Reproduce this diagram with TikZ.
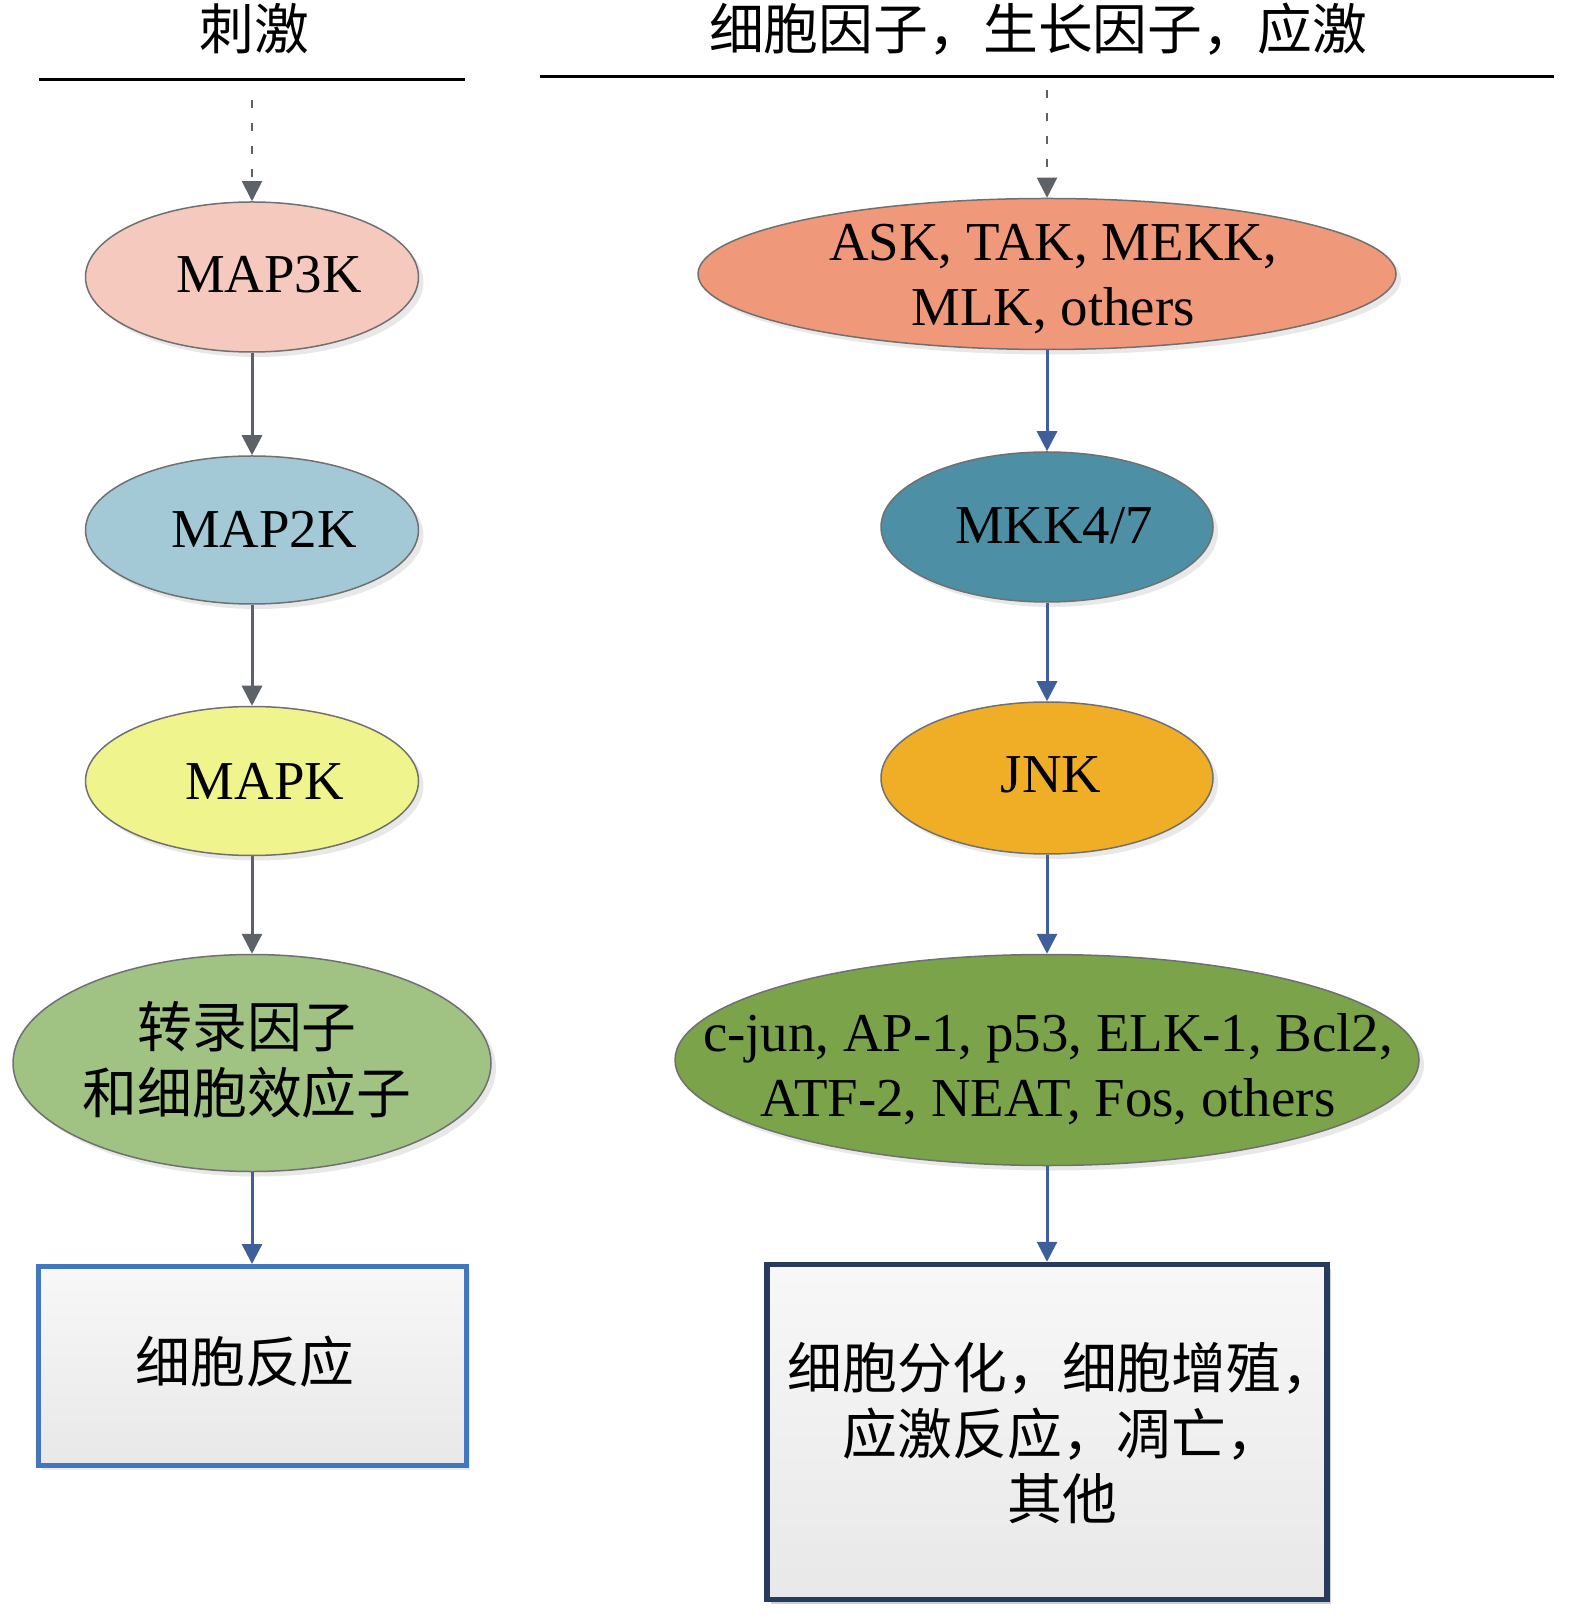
\documentclass[tikz,border=0pt]{standalone}
\usepackage{fontspec}
\setmainfont{Liberation Serif}
\newfontfamily\cjk{Noto Sans CJK SC}
\usetikzlibrary{arrows.meta,shapes.geometric,shadows}
\definecolor{cA}{HTML}{F6C9BE}
\definecolor{cB}{HTML}{A3C9D6}
\definecolor{cC}{HTML}{EFF58C}
\definecolor{cD}{HTML}{A0C282}
\definecolor{cE}{HTML}{F0997A}
\definecolor{cF}{HTML}{4D90A6}
\definecolor{cG}{HTML}{F0AE26}
\definecolor{cH}{HTML}{7AA34A}
\definecolor{ellborder}{HTML}{707070}
\definecolor{grayarrow}{HTML}{5D6168}
\definecolor{bluearrow}{HTML}{3E5F98}
\definecolor{lboxborder}{HTML}{4077BE}
\definecolor{rboxborder}{HTML}{283A5E}
\tikzset{
  ell/.style={ellipse, draw=ellborder, line width=0.15mm, inner sep=0pt,
    drop shadow={opacity=0.18, shadow xshift=0.5mm, shadow yshift=-0.5mm}},
  lat/.style={font=\fontsize{15.6}{18.6}\selectfont, align=center, inner sep=0pt},
  zh/.style={font=\cjk\fontsize{15.6}{18.6}\selectfont, align=center, inner sep=0pt},
  garrow/.style={draw=grayarrow, line width=0.3mm, -{Triangle[width=2mm,length=2mm]}},
  barrow/.style={draw=bluearrow, line width=0.3mm, -{Triangle[width=2mm,length=2mm]}},
  dasharrow/.style={draw=grayarrow, line width=0.2mm, dash pattern=on 0.8mm off 1.5mm,
    -{Triangle[width=2mm,length=2mm]}},
  resbox/.style={rectangle, top color=white!97!black, bottom color=white!91!black,
    inner sep=0pt},
}
\begin{document}
\begin{tikzpicture}[x=0.1mm, y=-0.1mm]
\useasboundingbox (0,0) rectangle (1575,1622);
% titles
\node[zh] (t1) at (254,29) {刺激};
\node[zh] (t2) at (1038,29) {细胞因子，生长因子，应激};
\draw[line width=0.3mm] (39,80) -- (465,80);
\draw[line width=0.3mm] (540,77) -- (1554,77);
% left column
\node[ell, fill=cA, minimum width=33.3mm, minimum height=15mm] (map3k) at (252,277) {};
\node[ell, fill=cB, minimum width=33.3mm, minimum height=14.8mm] (map2k) at (252,530) {};
\node[ell, fill=cC, minimum width=33.3mm, minimum height=14.9mm] (mapk) at (252,781) {};
\node[ell, fill=cD, minimum width=47.8mm, minimum height=21.7mm] (tf) at (252,1063) {};
\node[lat] (map3k-t) at (269,275) {MAP3K};
\node[lat] (map2k-t) at (264,529) {MAP2K};
\node[lat] (mapk-t) at (265,781) {MAPK};
\node[zh] (tf-t) at (247,1060) {转录因子\\和细胞效应子};
\node[resbox, draw=lboxborder, line width=0.5mm, minimum width=42.8mm, minimum height=19.9mm,
  drop shadow={opacity=0.15, shadow xshift=0.4mm, shadow yshift=-0.4mm}] (lbox) at (252,1366) {};
\node[zh] (lbox-t) at (245,1362) {细胞反应};
\coordinate (s1) at (252,100);
\draw[dasharrow] (s1) -- (map3k);
\draw[garrow] (map3k) -- (map2k);
\draw[garrow] (map2k) -- (mapk);
\draw[garrow] (mapk) -- (tf);
\draw[barrow] (tf) -- (lbox);
% right column
\node[ell, fill=cE, minimum width=69.8mm, minimum height=15.1mm] (ask) at (1047,274) {};
\node[ell, fill=cF, minimum width=33.2mm, minimum height=15mm] (mkk) at (1047,527) {};
\node[ell, fill=cG, minimum width=33.2mm, minimum height=15.2mm] (jnk) at (1047,778) {};
\node[ell, fill=cH, minimum width=74.4mm, minimum height=21.1mm] (cjun) at (1047,1060) {};
\node[lat] (ask-t) at (1053,279) {ASK, TAK, MEKK,\\MLK, others};
\node[lat] (mkk-t) at (1054,526) {MKK4/7};
\node[lat] (jnk-t) at (1051,775) {JNK};
\node[lat] (cjun-t) at (1048,1069) {c-jun, AP-1, p53, ELK-1, Bcl2,\\ATF-2, NEAT, Fos, others};
\node[resbox, draw=rboxborder, line width=0.55mm, minimum width=56mm, minimum height=33.5mm,
  drop shadow={opacity=0.25, fill=rboxborder, shadow xshift=0.4mm, shadow yshift=-0.4mm}] (rbox) at (1047,1432) {};
\node[zh] (rbox-t) at (1062,1433) {细胞分化，细胞增殖，\\应激反应，凋亡，\\其他};
\coordinate (s2) at (1047,90);
\draw[dasharrow] (s2) -- (ask);
\draw[barrow] (ask) -- (mkk);
\draw[barrow] (mkk) -- (jnk);
\draw[barrow] (jnk) -- (cjun);
\draw[barrow] (cjun) -- (rbox);
\end{tikzpicture}
\end{document}
